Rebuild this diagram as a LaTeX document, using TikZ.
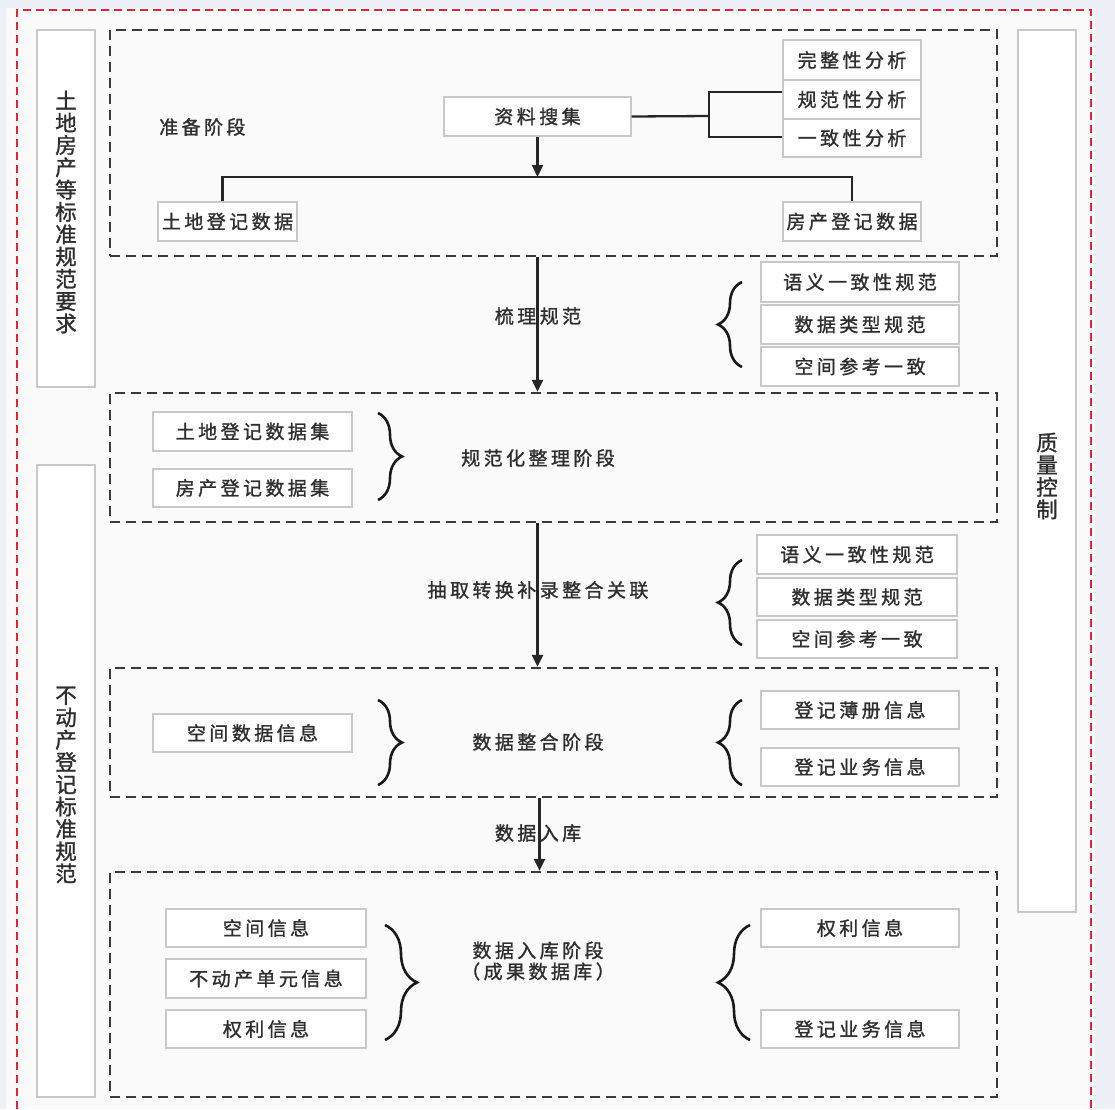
\documentclass[tikz,border=0pt]{standalone}
\usepackage{fontspec}
\newfontfamily\cjk{Noto Sans CJK SC}[LetterSpace=18, FakeBold=1.2]
\newfontfamily\cjkv{Noto Sans CJK SC}[FakeBold=1.2]
\usetikzlibrary{arrows.meta,decorations.pathreplacing,calc}

\definecolor{pagebg}{HTML}{EDF1F7}
\definecolor{paper}{HTML}{FAFAFA}
\definecolor{redline}{HTML}{E0233D}
\definecolor{dashgray}{HTML}{3A3A3A}
\definecolor{boxline}{HTML}{C8C8C8}
\definecolor{ink}{HTML}{2E2E2E}

\tikzset{
  txt/.style={font=\cjk\fontsize{19}{22}\selectfont, text=ink, inner sep=0pt},
  itembox/.style={txt, draw=boxline, fill=white, line width=1.2pt, inner sep=0pt},
  sidebox/.style={draw=boxline, fill=white, line width=1.2pt, inner sep=0pt},
  sidetxt/.style={font=\cjkv\fontsize{21.5}{22.3}\selectfont, text=ink, align=center, inner sep=0pt},
  stagebox/.style={draw=dashgray, line width=2.3pt, dash pattern=on 10pt off 6pt, inner sep=0pt},
  redborder/.style={draw=redline, line width=2pt, dash pattern=on 8pt off 5pt},
  conn/.style={draw=black!85, line width=2.3pt},
  arr/.style={conn, -{Triangle[length=12pt,width=11pt]}},
  bracestyle/.style={draw=black!90, line width=2.6pt, decorate,
    decoration={brace, amplitude=#1}},
}

% box given by its corners: name, x1, y1, x2, y2, text
\newcommand\mybox[6]{%
  \node[itembox, minimum width={#4-#2}, minimum height={#5-#3}]
    (#1) at ({(#2+#4)/2},{(#3+#5)/2}) {#6};}
\newcommand\mystage[5]{%
  \node[stagebox, minimum width={#4-#2}, minimum height={#5-#3}]
    (#1) at ({(#2+#4)/2},{(#3+#5)/2}) {};}

\begin{document}
\begin{tikzpicture}[x=1pt, y=-1pt]
  \useasboundingbox (0,0) rectangle (1115,1109);
  \fill[pagebg] (0,0) rectangle (1115,1109);
  \fill[paper] (6,8) rectangle (1095,1109);
  \draw[redborder] (17,1109) -- (17,10) -- (1091,10) -- (1091,1109);

  % side columns
  \node[sidebox, minimum width=58, minimum height=357] (sa) at (66,208.5) {};
  \node[sidetxt] (sat) at (66,212) {土\\地\\房\\产\\等\\标\\准\\规\\范\\要\\求};
  \node[sidebox, minimum width=58, minimum height=632] (sb) at (66,781) {};
  \node[sidetxt] (sbt) at (66,785) {不\\动\\产\\登\\记\\标\\准\\规\\范};
  \node[sidebox, minimum width=58, minimum height=882] (sc) at (1047,471) {};
  \node[sidetxt] (sct) at (1047,476) {质\\量\\控\\制};

  % stage frames
  \mystage{d1}{110}{30}{997}{256}
  \mystage{d2}{110}{393}{997}{522}
  \mystage{d3}{110}{668}{997}{797}
  \mystage{d4}{110}{872}{997}{1097}

  % preparation stage
  \node[txt, anchor=west] (s1) at (159,127) {准备阶段};
  \mybox{zl}{444}{97}{631}{136}{资料搜集}
  \mybox{wz}{783}{40}{921}{80}{完整性分析}
  \mybox{gf}{783}{80}{921}{119}{规范性分析}
  \mybox{yz}{783}{119}{921}{157}{一致性分析}
  \mybox{td}{158}{202}{297}{241}{土地登记数据}
  \mybox{fc}{783}{202}{921}{241}{房产登记数据}
  \coordinate (jn) at (709,116);
  \coordinate (split) at (zl.south |- 0,177);
  \draw[conn] (zl.east) -- (jn);
  \draw[conn] ([yshift=7.5pt]gf.west) -| (jn);
  \draw[conn] ([yshift=1pt]yz.west) -| (jn);
  \draw[arr] (zl.south) -- (split);
  \draw[conn] ([xshift=-5pt]td.north) |- (split);
  \draw[conn] (fc.north) |- (split);

  % normalisation rules
  \mybox{r1}{761}{262}{959}{302}{语义一致性规范}
  \mybox{r2}{761}{305}{959}{344}{数据类型规范}
  \mybox{r3}{761}{347}{959}{386}{空间参考一致}
  \draw[bracestyle=24pt] (742,367) -- (742,282);

  % normalisation stage
  \mybox{ld}{153}{412}{352}{451}{土地登记数据集}
  \mybox{fd}{153}{469}{352}{507}{房产登记数据集}
  \draw[bracestyle=24pt] (378,413) -- (378,500);
  \node[txt] (s2) at (538,458) {规范化整理阶段};

  % extraction rules
  \mybox{q1}{757}{535}{957}{574}{语义一致性规范}
  \mybox{q2}{757}{578}{957}{616}{数据类型规范}
  \mybox{q3}{757}{620}{957}{658}{空间参考一致}
  \draw[bracestyle=24pt] (742,645) -- (742,560);

  % integration stage
  \mybox{kj}{153}{714}{352}{752}{空间数据信息}
  \draw[bracestyle=24pt] (378,700) -- (378,785);
  \node[txt] (s3) at (538,742) {数据整合阶段};
  \mybox{db}{761}{691}{959}{729}{登记薄册信息}
  \mybox{dy}{761}{748}{959}{786}{登记业务信息}
  \draw[bracestyle=24pt] (742,785) -- (742,700);

  % warehousing stage
  \mybox{k1}{166}{909}{366}{947}{空间信息}
  \mybox{k2}{166}{959}{366}{998}{不动产单元信息}
  \mybox{k3}{166}{1010}{366}{1048}{权利信息}
  \draw[bracestyle=32pt] (385,925) -- (385,1040);
  \node[txt, align=center] (s4) at (538,961) {数据入库阶段\\[-1pt]（成果数据库）};
  \mybox{m1}{761}{909}{959}{947}{权利信息}
  \mybox{m2}{761}{1010}{959}{1048}{登记业务信息}
  \draw[bracestyle=32pt] (750,1040) -- (750,925);

  % flow between stages
  \node[txt] (l1) at (538,316) {梳理规范};
  \node[txt] (l2) at (538,590) {抽取转换补录整合关联};
  \node[txt] (l3) at (538,833) {数据入库};
  \draw[arr] (zl.south |- d1.south) -- (zl.south |- d2.north);
  \draw[arr] (zl.south |- d2.south) -- (zl.south |- d3.north);
  \draw[arr] ([xshift=2pt]zl.south |- d3.south) -- ([xshift=2pt]zl.south |- d4.north);
\end{tikzpicture}
\end{document}
